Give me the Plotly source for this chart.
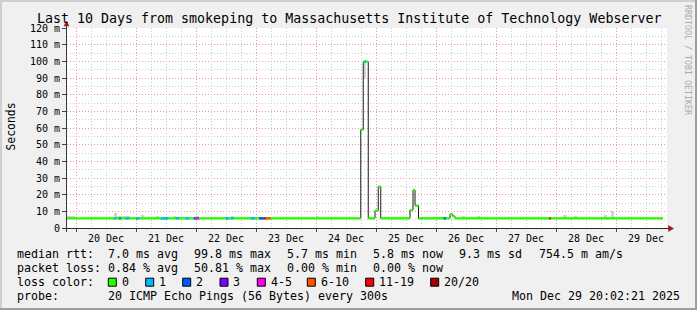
import numpy as np
import pandas as pd
import plotly.graph_objects as go

# ---------------- data ----------------
ref_time = pd.Timestamp("2025-12-20 00:00")   # hours below are counted from here
view_start_h = -3.6
view_end_h = 236.4

# median RTT as a step series: value (ms) holds from each start hour to the next
median_start_h = [-3.6, 113.9, 114.9, 116.9, 119.6, 120.9, 121.9,
                  133.6, 134.8, 135.6, 137.0, 149.6, 150.7, 151.6]
median_ms = [5.8, 59.0, 99.8, 5.8, 10.4, 24.8, 5.8,
             10.8, 22.8, 13.4, 5.8, 8.2, 7.0, 5.8]
median_last_h = 234.8

# periods with packet loss: start hour, end hour, pings lost (of 20)
loss_start_h = [15.2, 17.3, 19.9, 24.0, 34.0, 39.9, 43.9, 47.1, 47.9,
                59.9, 62.0, 70.0, 73.2, 75.2, 76.0, 115.2, 147.1, 189.3]
loss_end_h = [16.0, 17.9, 21.2, 25.2, 36.9, 41.2, 45.1, 47.9, 49.2,
              61.2, 62.9, 71.6, 75.2, 76.0, 77.9, 116.0, 147.9, 190.0]
loss_lost = [1, 2, 1, 1, 1, 1, 1, 2, 5,
             1, 1, 1, 2, 12, 8, 1, 2, 12]

# smoke (spread of the individual pings) where it shows
smoke_start_h = [-3.6, 15.0, 16.3, 19.6, 22.0, 25.9, 32.0, 39.2, 47.6, 59.9, 61.9,
                 70.0, 95.9, 115.2, 128.3, 154.3, 160.3, 194.8, 199.0, 211.0, 213.9]
smoke_end_h = [-0.4, 16.3, 19.6, 21.6, 23.2, 27.2, 33.2, 40.0, 49.3, 60.8, 63.2,
               71.2, 97.2, 116.0, 129.3, 155.6, 161.6, 196.4, 200.3, 212.3, 215.2]
smoke_lo_ms = [5.8, 5.8, 5.8, 5.8, 5.8, 5.8, 5.8, 5.8, 5.8, 5.8, 5.8,
               5.8, 5.8, 90.1, 5.8, 5.8, 5.8, 5.8, 5.8, 5.8, 5.8]
smoke_hi_ms = [7.4, 8.9, 7.5, 7.1, 6.9, 7.7, 7.1, 7.5, 7.5, 6.9, 7.5,
               6.9, 7.2, 99.8, 6.9, 7.1, 7.1, 7.7, 7.1, 7.7, 10.1]

y_tick_ms = [0, 10, 20, 30, 40, 50, 60, 70, 80, 90, 100, 110, 120]
y_tick_labels = ["0", "10 m", "20 m", "30 m", "40 m", "50 m", "60 m",
                 "70 m", "80 m", "90 m", "100 m", "110 m", "120 m"]

loss_labels = ["0", "1", "2", "3", "4-5", "6-10", "11-19", "20/20"]
loss_max_lost = [0, 1, 2, 3, 5, 10, 19, 20]
loss_colors = ["#26ff00", "#00b8ff", "#0059ff", "#7e00ff",
               "#ff00ea", "#ff5500", "#ff0000", "#a10000"]

title_text = "Last 10 Days from smokeping to Massachusetts Institute of Technology Webserver"
legend_median = ["median rtt:", "7.0 ms avg", "99.8 ms max", "5.7 ms min",
                 "5.8 ms now", "9.3 ms sd", "754.5 m am/s"]
legend_loss = ["packet loss:", "0.84 % avg", "50.81 % max", "0.00 % min", "0.00 % now"]
legend_loss_color = "loss color:"
legend_probe = ["probe:", "20 ICMP Echo Pings (56 Bytes) every 300s"]
timestamp_text = "Mon Dec 29 20:02:21 2025"
y_title = "Seconds"
side_text = "RRDTOOL / TOBI OETIKER"

# ---------------- layout constants ----------------
W, H = 697, 310
PL, PR, PT, PB = 67, 667, 28, 228          # plot area in pixels
FONT = "DejaVu Sans Mono"
LEG_SIZE = 11.63
legend_cols_px = [16, 107.3, 193.3, 286.3, 372.3, 458.3, 537.7]
legend_rows_py = [254.0, 268.2, 282.2, 296.4]
loss_box_px = [108.3, 145.7, 182.7, 220.0, 257.3, 307.3, 365.7, 430.7]


def ts(h):
    return (ref_time + pd.Timedelta(hours=float(h))).strftime("%Y-%m-%d %H:%M:%S")


def xp(px):
    return (px - PL) / (PR - PL)


def yp(py):
    return (PB - py) / (PB - PT)


fig = go.Figure()

# smoke
fig.add_trace(go.Bar(
    x=[ts((s + e) / 2) for s, e in zip(smoke_start_h, smoke_end_h)],
    y=[hi - lo for lo, hi in zip(smoke_lo_ms, smoke_hi_ms)],
    base=smoke_lo_ms,
    width=[(e - s) * 3600000 for s, e in zip(smoke_start_h, smoke_end_h)],
    marker=dict(color="#d2d2d2", line=dict(width=0)),
    hoverinfo="skip",
))

# thin dark median line (gives the vertical steps)
fig.add_trace(go.Scatter(
    x=[ts(h) for h in median_start_h + [median_last_h]],
    y=median_ms + [median_ms[-1]],
    mode="lines", line=dict(color="#1c1c1c", width=1, shape="hv"),
    hoverinfo="skip",
))

# thick horizontal median segments coloured by loss (0 loss = green)
seg_end_h = median_start_h[1:] + [median_last_h]
gx, gy = [], []
for s, e, v in zip(median_start_h, seg_end_h, median_ms):
    gx += [ts(s), ts(e), None]
    gy += [v, v, None]
fig.add_trace(go.Scatter(x=gx, y=gy, mode="lines",
                         line=dict(color=loss_colors[0], width=2.4),
                         hoverinfo="skip"))


def median_at(h):
    i = int(np.searchsorted(median_start_h, h, side="right")) - 1
    return median_ms[max(i, 0)]


for ci in range(1, len(loss_labels)):
    cx, cy = [], []
    for s, e, n in zip(loss_start_h, loss_end_h, loss_lost):
        k = next(i for i, m in enumerate(loss_max_lost) if n <= m)
        if k != ci:
            continue
        v = median_at((s + e) / 2)
        cx += [ts(s), ts(e), None]
        cy += [v, v, None]
    if cx:
        fig.add_trace(go.Scatter(x=cx, y=cy, mode="lines",
                                 line=dict(color=loss_colors[ci], width=2.4),
                                 hoverinfo="skip"))

# ---------------- annotations ----------------
ann = []


def label(text, px, py, size, xanchor="left", angle=0, color="#000000"):
    ann.append(dict(text=text, x=xp(px), y=yp(py), xref="paper", yref="paper",
                    showarrow=False, xanchor=xanchor, yanchor="middle",
                    borderpad=0, textangle=angle,
                    font=dict(family=FONT, size=size, color=color)))


label(title_text, W / 2, 18.2, 13.3, xanchor="center")
label(y_title, 10.5, 127, 11.4, xanchor="center", angle=-90)
label(side_text, 688, 60, 8.3, xanchor="center", angle=90, color="#ababab")

for txt, px in zip(legend_median, legend_cols_px):
    label(txt, px, legend_rows_py[0], LEG_SIZE)
for txt, px in zip(legend_loss, legend_cols_px):
    label(txt, px, legend_rows_py[1], LEG_SIZE)
label(legend_loss_color, legend_cols_px[0], legend_rows_py[2], LEG_SIZE)
for txt, px in zip(loss_labels, loss_box_px):
    label(txt, px + 12.4, legend_rows_py[2], LEG_SIZE)
label(legend_probe[0], legend_cols_px[0], legend_rows_py[3], LEG_SIZE)
label(legend_probe[1], legend_cols_px[1], legend_rows_py[3], LEG_SIZE)
label(timestamp_text, 681, legend_rows_py[3], LEG_SIZE, xanchor="right")

# ---------------- shapes (frame, axes, arrows, legend boxes) ----------------
shapes = []


def pline(x0, y0, x1, y1, color, width=1):
    shapes.append(dict(type="line", xref="paper", yref="paper",
                       x0=xp(x0), y0=yp(y0), x1=xp(x1), y1=yp(y1),
                       line=dict(color=color, width=width), layer="above"))


def ppath(points, color):
    d = "M " + " L ".join(f"{xp(a)},{yp(b)}" for a, b in points) + " Z"
    shapes.append(dict(type="path", xref="paper", yref="paper", path=d,
                       fillcolor=color, line=dict(color=color, width=0.5),
                       layer="above"))


# 3D frame
pline(0, 1, W, 1, "#cfcfcf", 2)
pline(1, 0, 1, H, "#cfcfcf", 2)
pline(0, H - 1, W, H - 1, "#9e9e9e", 2)
pline(W - 1, 0, W - 1, H, "#9e9e9e", 2)

# axes with arrows
pline(63, 228.5, 669, 228.5, "#2a2a2a")
pline(66.5, 232, 66.5, 25, "#3a3a3a")
ppath([(668.5, 225.5), (673.5, 228.5), (668.5, 231.5)], "#9a1a1a")
ppath([(64, 26), (66.5, 21), (69, 26)], "#9a1a1a")

# loss colour legend boxes
for px, col in zip(loss_box_px, loss_colors):
    shapes.append(dict(type="rect", xref="paper", yref="paper",
                       x0=xp(px), x1=xp(px + 8),
                       y0=yp(legend_rows_py[2] - 4), y1=yp(legend_rows_py[2] + 4),
                       fillcolor=col, line=dict(color="#000000", width=1),
                       layer="above"))

RED_GRID = "#e89a9a"
GRAY_GRID = "#cccccc"
DASH = "1px,2px"

fig.update_layout(
    width=W, height=H,
    margin=dict(l=PL, r=W - PR, t=PT, b=H - PB, pad=0),
    paper_bgcolor="#f0f0f0", plot_bgcolor="#ffffff",
    showlegend=False, bargap=0,
    font=dict(family=FONT, color="#000000"),
    annotations=ann, shapes=shapes,
    xaxis=dict(
        type="date", range=[ts(view_start_h), ts(view_end_h)],
        tick0=ts(0), dtick=86400000, ticklabelmode="period", tickformat="%d %b",
        showgrid=True, gridcolor=RED_GRID, griddash=DASH, gridwidth=1,
        ticks="outside", ticklen=3, tickcolor="#444444", ticklabelstandoff=-2,
        tickfont=dict(family=FONT, size=10, color="#000000"),
        showline=False, zeroline=False, fixedrange=True,
        minor=dict(tick0=ts(0), dtick=6 * 3600000, showgrid=True,
                   gridcolor=GRAY_GRID, griddash=DASH, gridwidth=1),
    ),
    yaxis=dict(
        range=[0, 120], tickmode="array", tickvals=y_tick_ms, ticktext=y_tick_labels,
        showgrid=True, gridcolor=RED_GRID, griddash=DASH, gridwidth=1,
        ticks="outside", ticklen=4, tickcolor="#444444",
        tickfont=dict(family=FONT, size=10, color="#000000"),
        showline=False, zeroline=False, fixedrange=True,
        minor=dict(tickmode="array",
                   tickvals=[v + 5 for v in y_tick_ms[:-1]],
                   showgrid=True, gridcolor=GRAY_GRID, griddash=DASH, gridwidth=1),
    ),
)

fig.write_html("out.html", config={"displayModeBar": False})
